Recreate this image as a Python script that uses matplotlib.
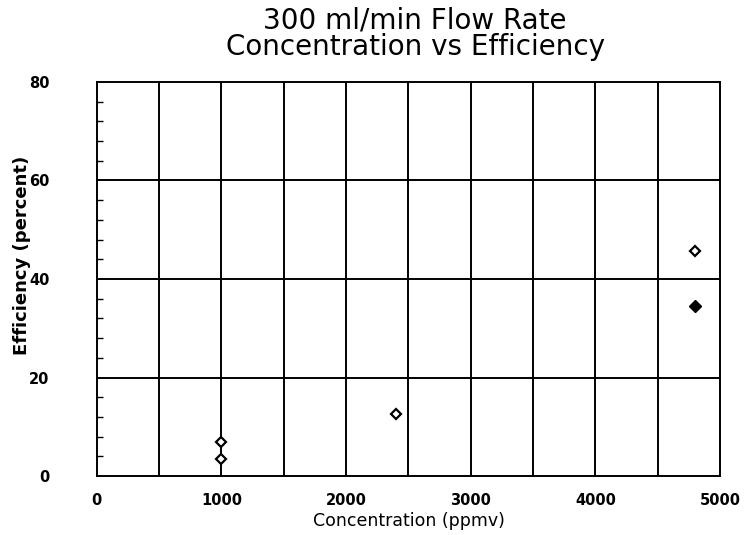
import matplotlib.pyplot as plt
from matplotlib.ticker import MultipleLocator

# Измеренные точки: концентрация (ppmv) и эффективность (%)
conc_open = [1000, 1000, 2400, 4800]
eff_open = [6.9, 3.5, 12.6, 45.7]
conc_filled = [4800]
eff_filled = [34.5]

x_ticks = [0, 1000, 2000, 3000, 4000, 5000]
y_ticks = [0, 20, 40, 60, 80]

fig = plt.figure(figsize=(7.44, 5.35), dpi=100)
ax = fig.add_axes([0.130, 0.110, 0.838, 0.737])

ax.set_xlim(0, 5000)
ax.set_ylim(0, 80)
ax.set_xticks(x_ticks)
ax.set_yticks(y_ticks)
ax.xaxis.set_minor_locator(MultipleLocator(500))
ax.yaxis.set_minor_locator(MultipleLocator(4))

# Сетка: вертикальные линии каждые 500, горизонтальные каждые 20
for x in range(500, 5000, 500):
    ax.axvline(x, color='black', lw=1.4, zorder=1)
for y in range(20, 80, 20):
    ax.axhline(y, color='black', lw=1.4, zorder=1)

for s in ax.spines.values():
    s.set_linewidth(1.4)

ax.tick_params(axis='x', which='major', length=0, labelsize=10.5, pad=12)
ax.tick_params(axis='y', which='major', length=0, labelsize=10.5, pad=34)
ax.tick_params(axis='y', which='minor', direction='in', length=4, width=1)
ax.tick_params(axis='x', which='minor', length=0)
for lab in ax.get_xticklabels() + ax.get_yticklabels():
    lab.set_fontweight('bold')

ax.plot(conc_open, eff_open, linestyle='none', marker='D', markersize=5,
        markerfacecolor='white', markeredgecolor='black', markeredgewidth=1.6, zorder=3)
ax.plot(conc_filled, eff_filled, linestyle='none', marker='D', markersize=6,
        markerfacecolor='black', markeredgecolor='black', zorder=3)

fig.text(0.558, 0.937, "300 ml/min Flow Rate\nConcentration vs Efficiency",
         ha='center', va='center', fontsize=20, linespacing=0.9)
ax.set_xlabel("Concentration (ppmv)", fontsize=12.5, labelpad=3)
ax.set_ylabel("Efficiency (percent)", fontsize=13, fontweight='bold')
ax.yaxis.set_label_coords(-0.106, 0.56)

fig.savefig("out.png", dpi=100)
